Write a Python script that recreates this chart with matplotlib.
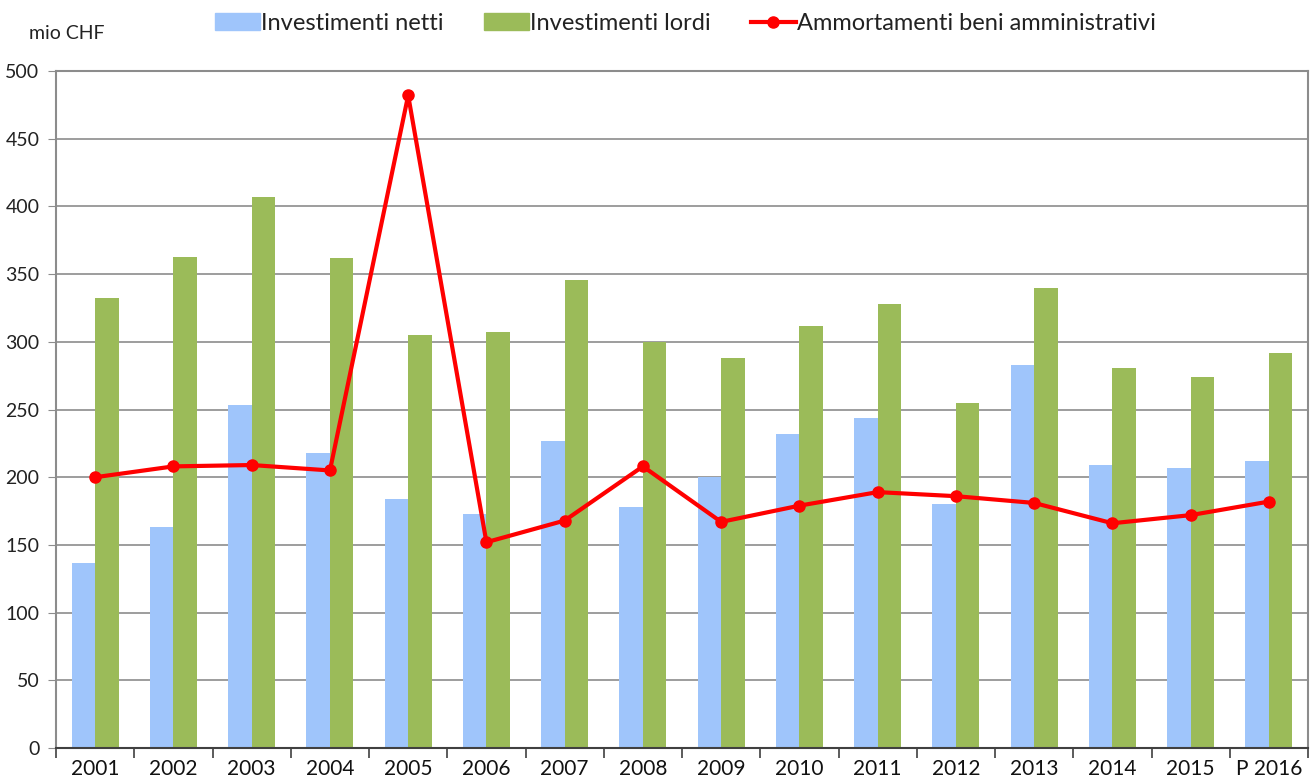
import numpy as np
import matplotlib
matplotlib.use('Agg')
import matplotlib.pyplot as plt
from matplotlib.lines import Line2D
from matplotlib.patches import Patch

plt.rcParams['font.family'] = ['Lato', 'DejaVu Sans']

# data (mio CHF)
anni = ['2001', '2002', '2003', '2004', '2005', '2006', '2007', '2008',
        '2009', '2010', '2011', '2012', '2013', '2014', '2015', 'P 2016']
inv_netti = [137, 163, 253, 218, 184, 173, 227, 178, 200, 232, 244, 180, 283, 209, 207, 212]
inv_lordi = [332, 363, 407, 362, 305, 307, 346, 300, 288, 312, 328, 255, 340, 281, 274, 292]
ammortamenti = [200, 208, 209, 205, 482, 152, 168, 208, 167, 179, 189, 186, 181, 166, 172, 182]

x = np.arange(len(anni))
w = 0.3

fig = plt.figure(figsize=(13.13, 7.84), dpi=100)
ax = fig.add_axes([0.0427, 0.0459, 0.9535, 0.8635])

ax.bar(x - w / 2, inv_netti, w, color='#9fc5fb', zorder=2)
ax.bar(x + w / 2, inv_lordi, w, color='#9bbb59', zorder=2)
ax.plot(x, ammortamenti, color='#ff0000', lw=3, marker='o', ms=8, zorder=3)

ax.set_xlim(-0.5, len(anni) - 0.5)
ax.set_ylim(0, 500)
ax.set_yticks(range(0, 501, 50))
ax.yaxis.grid(True, color='#8c8c8c', lw=1.2, zorder=0)

# x ticks at category boundaries, labels at centres
ax.set_xticks(np.arange(-0.5, len(anni), 1))
ax.set_xticklabels([])
ax.set_xticks(x, minor=True)
ax.set_xticklabels(anni, minor=True, fontsize=15, color='#111111')
ax.tick_params(axis='x', which='minor', length=0, pad=8)
ax.tick_params(axis='x', which='major', length=7, color='#404040', width=1.2)
ax.tick_params(axis='y', length=6, color='#8c8c8c', labelsize=14, labelcolor='#222222', pad=6)

for s in ['top', 'right', 'left']:
    ax.spines[s].set_color('#8c8c8c')
    ax.spines[s].set_linewidth(1.5)
ax.spines['bottom'].set_color('#404040')
ax.spines['bottom'].set_linewidth(1.5)

fig.text(0.022, 0.957, 'mio CHF', fontsize=14, color='#222222', va='center')

handles = [Patch(color='#9fc5fb'), Patch(color='#9bbb59'),
           Line2D([0], [0], color='#ff0000', lw=3, marker='o', ms=8)]
labels = ['Investimenti netti', 'Investimenti lordi', 'Ammortamenti beni amministrativi']
fig.legend(handles, labels, loc='center', bbox_to_anchor=(0.522, 0.97), ncol=3,
           frameon=False, fontsize=17, handlelength=1.9, handletextpad=0.05,
           columnspacing=1.7, labelcolor='#222222')

fig.savefig('out.png', dpi=100)
